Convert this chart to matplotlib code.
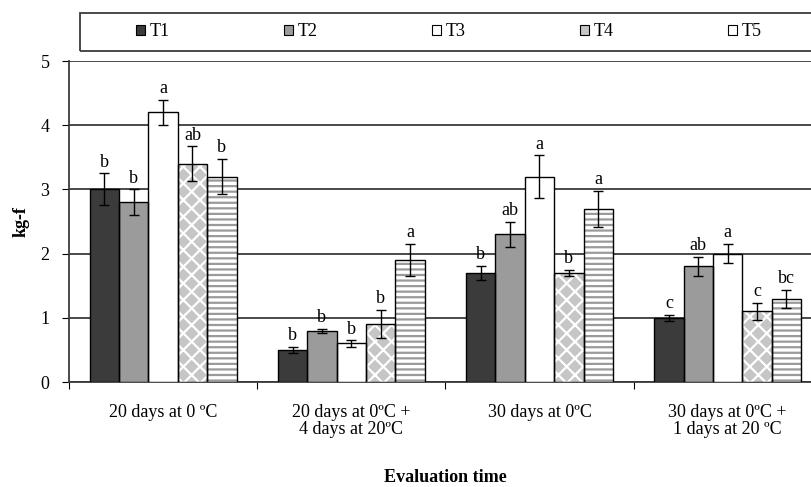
import numpy as np
import matplotlib
matplotlib.use("Agg")
import matplotlib.pyplot as plt
from matplotlib.patches import Patch, Rectangle

# Evaluation times (x categories)
groups = ["20 days at 0 \u00baC",
          "20 days at 0\u00baC +\n4 days at 20\u00baC",
          "30 days at 0\u00baC",
          "30 days at 0\u00baC +\n1 days at 20 \u00baC"]
treatments = ["T1", "T2", "T3", "T4", "T5"]

# firmness (kg-f) per treatment, one value per evaluation time
t1 = [3.0, 0.5, 1.7, 1.0]
t2 = [2.8, 0.8, 2.3, 1.8]
t3 = [4.2, 0.6, 3.2, 2.0]
t4 = [3.4, 0.9, 1.7, 1.1]
t5 = [3.2, 1.9, 2.7, 1.3]

# error bars
t1_err = [0.25, 0.05, 0.11, 0.05]
t2_err = [0.20, 0.03, 0.20, 0.15]
t3_err = [0.20, 0.05, 0.33, 0.15]
t4_err = [0.27, 0.22, 0.05, 0.13]
t5_err = [0.27, 0.25, 0.28, 0.14]

# significance letters
t1_lab = ["b", "b", "b", "c"]
t2_lab = ["b", "b", "ab", "ab"]
t3_lab = ["a", "b", "a", "a"]
t4_lab = ["ab", "b", "b", "c"]
t5_lab = ["b", "a", "a", "bc"]

values = [t1, t2, t3, t4, t5]
errors = [t1_err, t2_err, t3_err, t4_err, t5_err]
letters = [t1_lab, t2_lab, t3_lab, t4_lab, t5_lab]

faces = ["#3b3b3b", "#9b9b9b", "white", "#c6c6c6", "white"]
hatches = [None, None, None, "xx", "---"]
hatch_colors = ["#3b3b3b", "#9b9b9b", "white", "white", "#9a9a9a"]

plt.rcParams["font.family"] = ["Liberation Serif", "DejaVu Serif"]
plt.rcParams["font.size"] = 13
plt.rcParams["hatch.linewidth"] = 1.6

fig = plt.figure(figsize=(8.12, 4.87), dpi=100)
ax = fig.add_axes([0.085, 0.2156, 0.927, 0.659])

x = np.arange(len(groups))
width = 0.156

for i in range(len(treatments)):
    pos = x + (i - 2) * width
    ax.bar(pos, values[i], width, color=faces[i], edgecolor=hatch_colors[i],
           hatch=hatches[i], linewidth=0, zorder=3)
    ax.bar(pos, values[i], width, fill=False, edgecolor="black",
           linewidth=1.0, zorder=4)
    ax.errorbar(pos, values[i], yerr=errors[i], fmt="none", ecolor="black",
                elinewidth=1.0, capsize=3.8, capthick=1.0, zorder=5)
    for px, v, e, lab in zip(pos, values[i], errors[i], letters[i]):
        ax.annotate(lab, (px, v + e), xytext=(0, 2), textcoords="offset points",
                    ha="center", va="bottom", fontsize=13)

ax.set_xlim(-0.5, 3.5)
ax.set_ylim(0, 5)
ax.set_yticks(range(0, 6))
ax.set_xticks(np.arange(len(groups) + 1) - 0.5, minor=False)
ax.set_xticklabels([])
ax.set_xticks(x, minor=True)
ax.set_xticklabels(groups, minor=True, linespacing=1.0)
ax.tick_params(axis="x", which="minor", length=0, pad=16)
ax.tick_params(axis="x", which="major", length=5, direction="out")
ax.tick_params(axis="y", length=5, direction="out", pad=9)

ax.yaxis.grid(True, color="#3a3a3a", linewidth=1.3, zorder=0)
ax.set_axisbelow(True)
for side in ["top", "right"]:
    ax.spines[side].set_visible(False)
ax.spines["left"].set_color("#3a3a3a")
ax.spines["bottom"].set_color("#3a3a3a")
ax.spines["left"].set_linewidth(1.3)
ax.spines["bottom"].set_linewidth(1.3)

ax.set_ylabel("kg-f", fontweight="bold", labelpad=8)
ax.set_xlabel("Evaluation time", fontweight="bold", labelpad=22)

# legend frame across the top
fig.patches.append(Rectangle((80 / 812, 1 - 51 / 487), 760 / 812, 38 / 487,
                             transform=fig.transFigure, fill=False,
                             edgecolor="#3a3a3a", linewidth=1.3))
handles = [Patch(facecolor=faces[i], edgecolor="black", linewidth=0.8)
           for i in range(len(treatments))]
fig.legend(handles, treatments, ncol=5, loc="center left",
           bbox_to_anchor=(136 / 812, 1 - 32 / 487), frameon=False,
           handlelength=0.5, handleheight=0.5, handletextpad=0.25,
           columnspacing=6.34, borderaxespad=0, borderpad=0, fontsize=13)

fig.savefig("out.png", dpi=100)
